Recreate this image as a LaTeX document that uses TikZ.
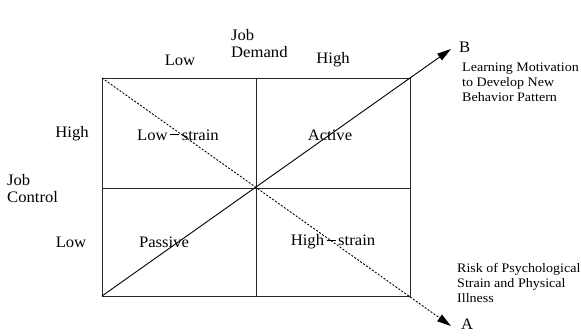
\documentclass[tikz,border=0pt]{standalone}
\usepackage{fontspec}
\setmainfont{Liberation Serif}
\newfontfamily\wideserif[FakeStretch=1.04]{Liberation Serif}
\newfontfamily\smallserif[FakeStretch=1.08]{Liberation Serif}
\usetikzlibrary{arrows.meta}
\begin{document}
\begin{tikzpicture}[x=1pt,y=-1pt,
  lbl/.style={font=\wideserif\fontsize{16}{17}\selectfont, inner sep=0pt},
  small/.style={font=\smallserif\fontsize{13}{15}\selectfont, inner sep=0pt, align=left, anchor=west},
  grid/.style={line width=0.9pt, draw=black!85},
  arr/.style={line width=0.9pt, -{Triangle[length=14pt,width=8pt]}},
  dotted arr/.style={arr, dash pattern=on 2pt off 1.6pt}]
\useasboundingbox (0,0) rectangle (581,336);
% corners
\coordinate (tl) at (102,78);
\coordinate (tr) at (410,78);
\coordinate (bl) at (102,296);
\coordinate (br) at (410,296);
\coordinate (B) at (451,49);
\coordinate (A) at (451,326);
\draw[grid] (tl) rectangle (br);
\draw[grid] (256,78) -- (256,296);
\draw[grid] (102,188) -- (410,188);
\draw[arr] (bl) -- (B);
\draw[dotted arr] (tl) -- (A);
% labels
\node[lbl, align=left, anchor=west] (jd) at (231,44) {Job\\Demand};
\node[lbl] (dlow) at (180,60) {Low};
\node[lbl] (dhigh) at (333,60) {High};
\node[lbl] (chigh) at (72,134) {High};
\node[lbl] (clow) at (71,242) {Low};
\node[lbl, align=left, anchor=west] (jc) at (7,189) {Job\\Control};
\node[lbl] (ls) at (178,135) {Low{\,\rule[0.3em]{0.55em}{0.06em}\,}strain};
\node[lbl] (ac) at (330,135) {Active};
\node[lbl] (pa) at (164,242) {Passive};
\node[lbl] (hs) at (333,242) {High{\,\rule[0.3em]{0.55em}{0.06em}\,}strain};
\node[lbl, anchor=west] (bl2) at (459,47) {B};
\node[small] (bt) at (462,82) {Learning Motivation\\to Develop New\\Behavior Pattern};
\node[small] (at) at (457,283) {Risk of Psychological\\Strain and Physical\\Illness};
\node[lbl, anchor=west] (al) at (461,324) {A};
\end{tikzpicture}
\end{document}
